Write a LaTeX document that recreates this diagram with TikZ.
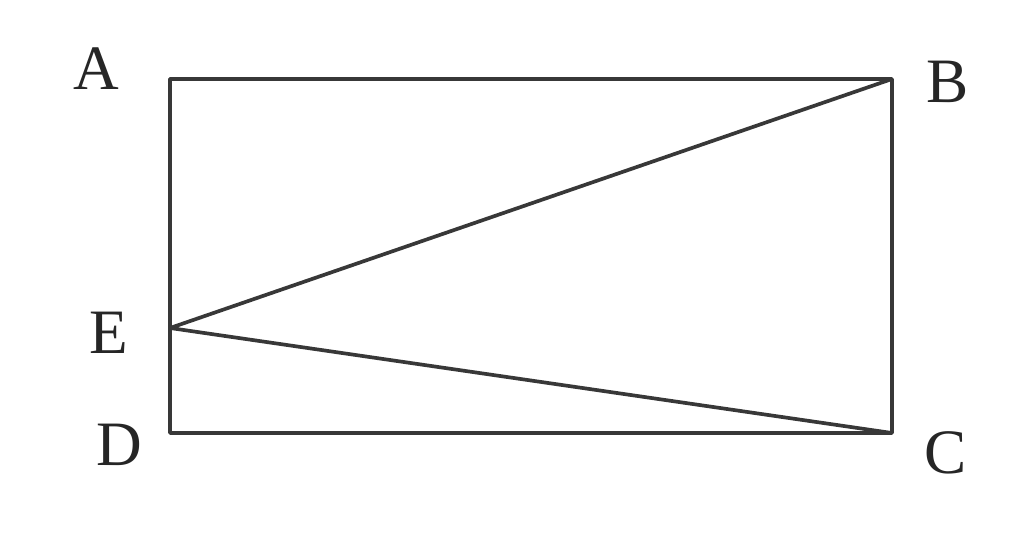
\documentclass[tikz,border=0pt]{standalone}
\usepackage{fontspec}
\setmainfont{Liberation Serif}
\begin{document}
\begin{tikzpicture}[x=0.02cm,y=-0.02cm,
  edge/.style={draw=black!78,line width=2.1pt,line join=bevel},
  lbl/.style={font=\fontsize{36}{38}\selectfont,text=black!85,inner sep=0pt}]
\useasboundingbox (0,0) rectangle (1024,543);
\coordinate (A) at (170,79);
\coordinate (B) at (892,79);
\coordinate (C) at (892,433);
\coordinate (D) at (170,433);
\coordinate (E) at (170,328);
\draw[edge] (A) -- (B) -- (C) -- (D) -- cycle;
\draw[edge] (B) -- (E) -- (C);
\node[lbl] (lA) at (96,69) {A};
\node[lbl] (lB) at (948,82) {B};
\node[lbl] (lC) at (946,453) {C};
\node[lbl] (lD) at (119,445) {D};
\node[lbl] (lE) at (109,333) {E};
\end{tikzpicture}
\end{document}
